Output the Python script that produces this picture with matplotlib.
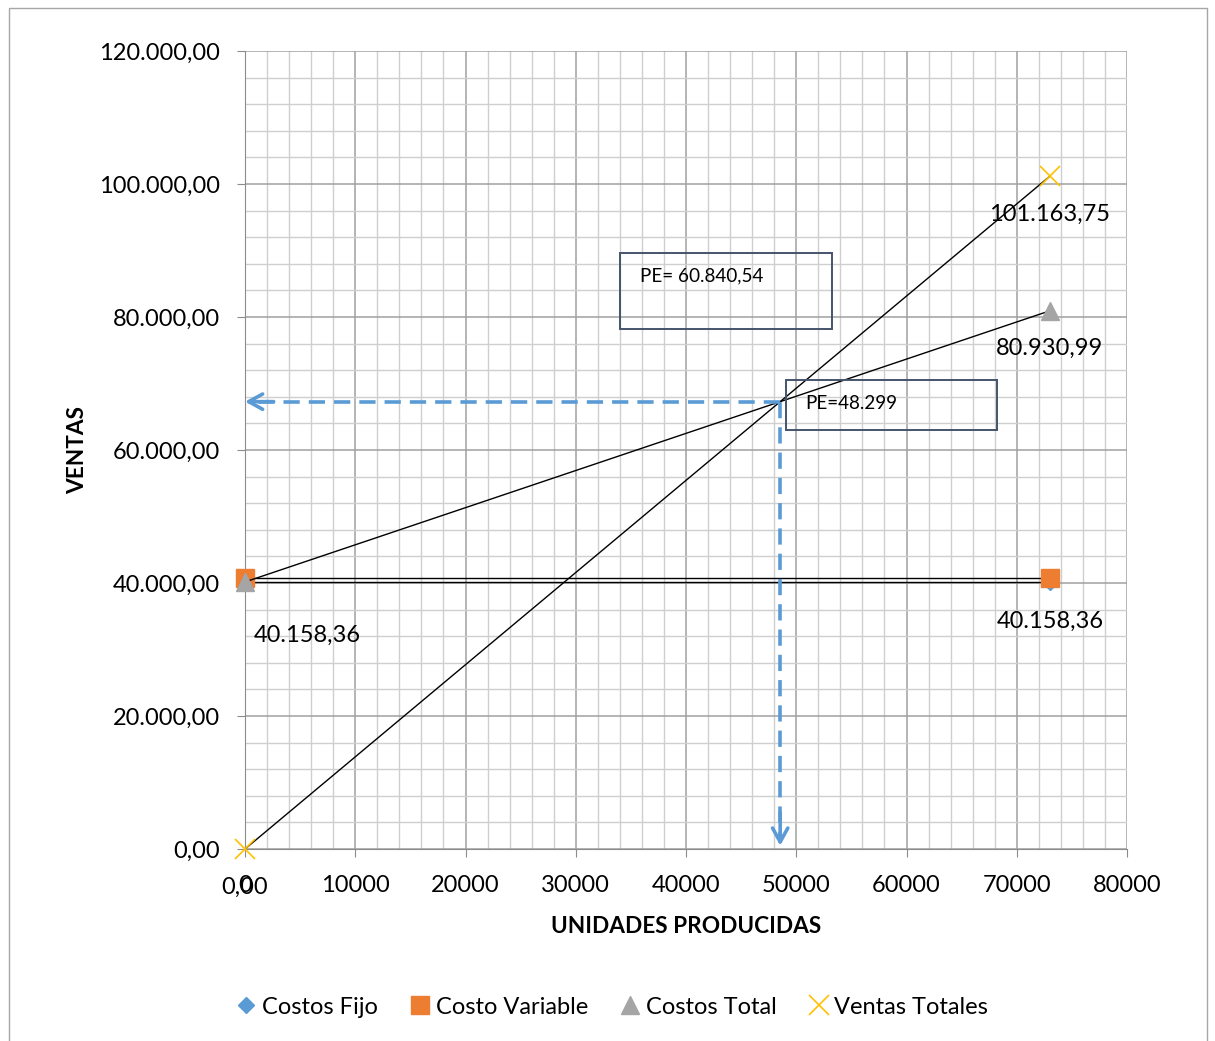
import matplotlib
matplotlib.use("Agg")
import matplotlib.pyplot as plt
from matplotlib.patches import Rectangle
from matplotlib.ticker import FuncFormatter, MultipleLocator

plt.rcParams['font.family'] = ['Lato', 'DejaVu Sans']

# Units produced (start / end of the range)
unidades = [0, 73000]

# Series values
costos_fijo = [40158.36, 40158.36]
costo_variable = [40772.63, 40772.63]
costos_total = [40158.36, 80930.99]
ventas_totales = [0.00, 101163.75]

pe_unidades_txt = "PE=48.299"
pe_ventas_txt = "PE= 60.840,54"

x_ticks = [0, 10000, 20000, 30000, 40000, 50000, 60000, 70000, 80000]
y_ticks = [0, 20000, 40000, 60000, 80000, 100000, 120000]


def es_num(v, dec=2):
    s = f"{v:,.{dec}f}"
    return s.replace(",", "X").replace(".", ",").replace("X", ".")


W, H = 1215, 1041
fig = plt.figure(figsize=(W / 100, H / 100), dpi=100)
ax = fig.add_axes([245 / W, 1 - 849 / H, (1127 - 245) / W, (849 - 51) / H])

# outer chart frame
fig.add_artist(Rectangle((9 / W, -0.01), (1207 - 9) / W, 1 - 8 / H + 0.01,
                         transform=fig.transFigure, fill=False,
                         edgecolor='#a6a6a6', linewidth=1.0))

ax.set_xlim(0, 80000)
ax.set_ylim(0, 120000)
ax.set_xticks(x_ticks)
ax.set_yticks(y_ticks)
ax.xaxis.set_minor_locator(MultipleLocator(2000))
ax.yaxis.set_minor_locator(MultipleLocator(4000))
ax.xaxis.set_major_formatter(FuncFormatter(lambda v, p: f"{int(v)}"))
ax.yaxis.set_major_formatter(FuncFormatter(lambda v, p: es_num(v)))

ax.grid(which='major', color='#a0a0a0', linewidth=1.1)
ax.grid(which='minor', color='#cfcfcf', linewidth=1.0)
ax.set_axisbelow(True)
for side in ['top', 'right']:
    ax.spines[side].set_visible(False)
for side in ['left', 'bottom']:
    ax.spines[side].set_color('#8c8c8c')
ax.tick_params(which='major', length=6, color='#8c8c8c', labelsize=17,
               labelcolor='black')
ax.tick_params(axis='y', pad=12)
ax.tick_params(axis='x', pad=13)
ax.tick_params(which='minor', length=0)

ax.set_xlabel("UNIDADES PRODUCIDAS", fontsize=16.3, fontweight='bold', labelpad=14)
ax.set_ylabel("VENTAS", fontsize=16.3, fontweight='bold', labelpad=8)

# series
ax.plot(unidades, costos_fijo, color='black', linewidth=1.0, marker='D',
        markersize=8, markerfacecolor='#5B9BD5', markeredgecolor='#5B9BD5',
        label='Costos Fijo', zorder=3, clip_on=False)
ax.plot(unidades, costo_variable, color='black', linewidth=1.0, marker='s',
        markersize=13, markerfacecolor='#ED7D31', markeredgecolor='#ED7D31',
        label='Costo Variable', zorder=4, clip_on=False)
ax.plot(unidades, costos_total, color='black', linewidth=1.0, marker='^',
        markersize=13, markerfacecolor='#A5A5A5', markeredgecolor='#A5A5A5',
        label='Costos Total', zorder=5, clip_on=False)
ax.plot(unidades, ventas_totales, color='black', linewidth=1.0, marker='x',
        markersize=14, markeredgewidth=1.2, markeredgecolor='#FFC000',
        label='Ventas Totales', zorder=6, clip_on=False)

# data labels
lab_kw = dict(fontsize=17, ha='center', va='center', zorder=7)
ax.annotate(es_num(ventas_totales[1]), (unidades[1], ventas_totales[1]),
            xytext=(0, -38), textcoords='offset pixels', **lab_kw)
ax.annotate(es_num(costos_total[1]), (unidades[1], costos_total[1]),
            xytext=(0, -38), textcoords='offset pixels', **lab_kw)
ax.annotate(es_num(costos_fijo[1]), (unidades[1], costos_fijo[1]),
            xytext=(0, -39), textcoords='offset pixels', **lab_kw)
ax.annotate(es_num(costos_total[0]), (unidades[0], costos_total[0]),
            xytext=(62, -53), textcoords='offset pixels', **lab_kw)
ax.annotate(es_num(ventas_totales[0]), (unidades[0], ventas_totales[0]),
            xytext=(0, -38), textcoords='offset pixels', **lab_kw)

# break-even point from the two lines
precio = ventas_totales[1] / unidades[1]
cv_unit = (costos_total[1] - costos_total[0]) / unidades[1]
x_pe = costos_fijo[0] / (precio - cv_unit)
y_pe = precio * x_pe

blue = '#5B9BD5'
ax.plot([x_pe, 800], [y_pe, y_pe], color=blue, linewidth=2.6,
        dashes=(4.5, 2.5), zorder=8)
ax.plot([x_pe, x_pe], [y_pe, 2000], color=blue, linewidth=2.6,
        dashes=(4.5, 2.5), zorder=8)
ax.annotate('', xy=(0, y_pe), xytext=(2600, y_pe),
            arrowprops=dict(arrowstyle='->,head_length=1.0,head_width=0.55',
                            color=blue, linewidth=2.6, shrinkA=0, shrinkB=0),
            zorder=8)
ax.annotate('', xy=(x_pe, 500), xytext=(x_pe, 5500),
            arrowprops=dict(arrowstyle='->,head_length=1.0,head_width=0.55',
                            color=blue, linewidth=2.6, shrinkA=0, shrinkB=0),
            zorder=8)

# text boxes
box_c = '#44546A'
ax.add_patch(Rectangle((34014, 78195), 53243 - 34014, 89624 - 78195,
                       fill=False, edgecolor=box_c, linewidth=1.4, zorder=9))
ax.text(35800, 86150, pe_ventas_txt, fontsize=13.6, va='center', ha='left',
        zorder=9)
ax.add_patch(Rectangle((49070, 63008), 68209 - 49070, 70526 - 63008,
                       fill=False, edgecolor=box_c, linewidth=1.4, zorder=9))
ax.text(50800, 67000, pe_unidades_txt, fontsize=13.6, va='center', ha='left',
        zorder=9)

fig.legend(loc='center', bbox_to_anchor=(612 / W, 1 - 1007 / H), ncol=4,
           frameon=False, fontsize=17, handlelength=0.9, handletextpad=0.2,
           columnspacing=1.35, numpoints=1)
leg = fig.legends[0]
for h in leg.legend_handles:
    h.set_linestyle('None')

fig.savefig("out.png", dpi=100)
